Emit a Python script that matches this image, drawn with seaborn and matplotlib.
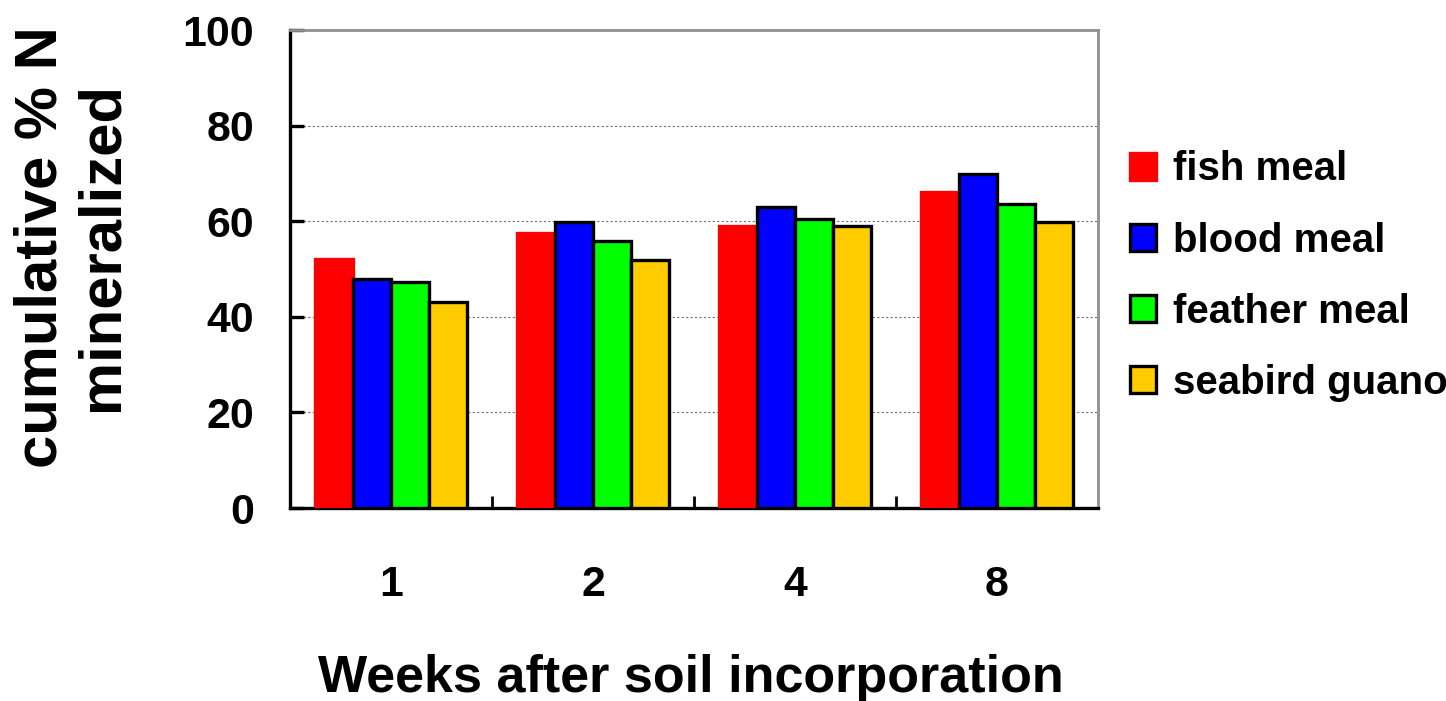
import matplotlib
matplotlib.use("Agg")
import matplotlib.pyplot as plt
from matplotlib import font_manager
import seaborn as sns
import pandas as pd
from matplotlib.ticker import FixedLocator

weeks = ["1", "2", "4", "8"]
fish_meal = [52.1, 57.6, 59.1, 66.2]
blood_meal = [48.0, 59.8, 62.9, 69.9]
feather_meal = [47.2, 55.9, 60.5, 63.7]
seabird_guano = [43.2, 51.9, 58.9, 59.8]
series_names = ["fish meal", "blood meal", "feather meal", "seabird guano"]
colors = ["#FF0000", "#0000FF", "#00FF00", "#FFCC00"]
y_ticks = [0, 20, 40, 60, 80, 100]

rows = []
for name, vals in zip(series_names, [fish_meal, blood_meal, feather_meal, seabird_guano]):
    for w, v in zip(weeks, vals):
        rows.append({"week": w, "material": name, "value": v})
df = pd.DataFrame(rows)

available = {f.name for f in font_manager.fontManager.ttflist}
narrow = "Liberation Sans Narrow" if "Liberation Sans Narrow" in available else "Liberation Sans"
narrow_scale = 1.0 if narrow == "Liberation Sans Narrow" else 0.88

sns.set_theme(style="white")
plt.rcParams["font.family"] = ["Liberation Sans", "DejaVu Sans"]
plt.rcParams["font.weight"] = "bold"
for k in ["text.color", "axes.labelcolor", "xtick.color", "ytick.color"]:
    plt.rcParams[k] = "black"

fig = plt.figure(figsize=(14.46, 7.01), dpi=100)
ax = fig.add_axes([290/1446, (701-508)/701, (1098-290)/1446, (508-30)/701])

sns.barplot(data=df, x="week", y="value", hue="material", order=weeks,
            hue_order=series_names, palette=colors, width=0.75, dodge=True,
            errorbar=None, legend=False, ax=ax, saturation=1)

for cont, col, name in zip(ax.containers, colors, series_names):
    for p in cont.patches:
        p.set_edgecolor(col if name == "fish meal" else "black")
        p.set_linewidth(2.4)
        p.set_zorder(3)

ax.set_ylim(0, 100)
ax.set_xlim(-0.5, 3.5)
ax.set_yticks(y_ticks)
ax.set_yticklabels([str(t) for t in y_ticks])
ax.yaxis.grid(True, color="#707070", linestyle=(0, (2, 2)), linewidth=0.8)
ax.set_axisbelow(True)

for s in ["left", "bottom"]:
    ax.spines[s].set_color("black")
    ax.spines[s].set_linewidth(2.4)
for s in ["top", "right"]:
    ax.spines[s].set_color("#909090")
    ax.spines[s].set_linewidth(2.0)

tick_size = 35 * narrow_scale
ax.tick_params(axis="y", direction="in", length=10, width=2.4, color="black",
               pad=26, left=True)
ax.tick_params(axis="x", which="major", length=0, pad=41)
ax.xaxis.set_minor_locator(FixedLocator([0.5, 1.5, 2.5]))
ax.tick_params(axis="x", which="minor", direction="in", length=9, width=2.0,
               color="black", bottom=True)
for lab in ax.get_xticklabels() + ax.get_yticklabels():
    lab.set_fontweight("bold")
    lab.set_family(narrow)
    lab.set_fontsize(tick_size)
    lab.set_color("black")

ax.set_xlabel("Weeks after soil incorporation", fontsize=42.6 * narrow_scale,
              fontweight="bold", family=narrow, color="black")
ax.xaxis.set_label_coords(0.496, -0.305)
ax.set_ylabel("cumulative % N\nmineralized", fontsize=43, fontweight="bold",
              linespacing=1.13, color="black")
ax.yaxis.set_label_coords(-0.199, 0.546)

handles = [cont.patches[0] for cont in ax.containers]
leg = ax.legend(handles, series_names, loc="center left",
                bbox_to_anchor=(1.02, 0.485), frameon=False,
                prop={"family": "Liberation Sans", "weight": "bold", "size": 29},
                handlelength=0.65, handleheight=0.65, handletextpad=0.4,
                labelspacing=0.825, borderaxespad=0)
for t in leg.get_texts():
    t.set_color("black")

fig.savefig("out.png", dpi=100)
